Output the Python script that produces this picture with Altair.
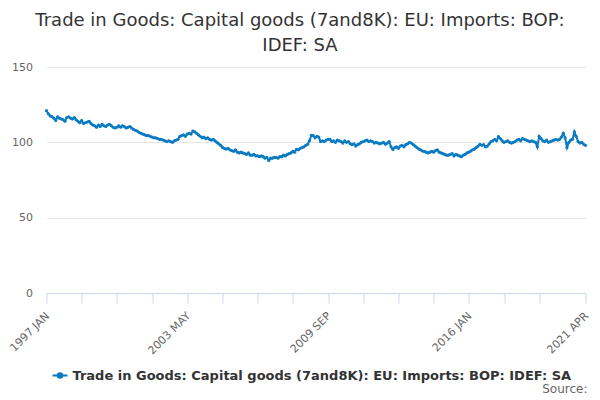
import altair as alt
import pandas as pd

MONTHS = ["JAN", "FEB", "MAR", "APR", "MAY", "JUN", "JUL", "AUG", "SEP", "OCT", "NOV", "DEC"]

values = [
    # 1997
    121, 119, 117.5, 117, 116, 114.5, 117, 116, 115.5, 115, 114, 116.5,
    # 1998
    117, 116, 115.5, 116.5, 115, 114, 113, 114.5, 112.5, 113, 113.5, 114,
    # 1999
    112.5, 111.5, 111, 110, 111.5, 110.5, 112, 111, 110.5, 111.5, 112, 111,
    # 2000
    110, 109.5, 110, 111, 110, 111, 110.5, 109.5, 110, 110.5, 109.5, 108.5,
    # 2001
    108, 107.5, 106.5, 106, 105.5, 105, 104.5, 104.5, 104, 103.5, 103, 103,
    # 2002
    102.5, 102, 102, 101.5, 101, 100.5, 101, 100.5, 100, 101, 101.5, 102,
    # 2003
    104, 104.5, 105, 104, 105.5, 106, 105.5, 107.5, 107, 106, 105, 104,
    # 2004
    103, 103.5, 102.5, 103, 102, 101.5, 102, 101, 100, 99, 98, 96.7,
    # 2005
    96, 95.5, 96, 95, 94.5, 94, 95, 93.5, 93, 93.5, 93, 92.5,
    # 2006
    92, 93, 91.5, 91.5, 92, 91, 91, 90.5, 91, 90.5, 89.5, 90,
    # 2007
    88, 89.5, 89.5, 90, 90, 89.5, 90.5, 90.5, 91.5, 91, 92, 92.5,
    # 2008
    93, 94, 93.5, 95.3, 95, 96, 96.5, 97, 98, 98.7, 101, 104.7,
    # 2009
    104.5, 103, 104, 103.5, 100.5, 101, 100.5, 101.5, 102, 102, 100.5, 101,
    # 2010
    100, 101.5, 101, 100.5, 99.5, 101, 100, 100.5, 99, 98.5, 99, 97.5,
    # 2011
    98.5, 99, 100, 100.5, 101, 101.5, 100.5, 101, 100.5, 99.5, 100, 99.5,
    # 2012
    99, 99.5, 100, 98.7, 99.5, 100.5, 97, 95.3, 96.5, 97, 96, 97.5,
    # 2013
    98, 97, 98.5, 99, 100, 99.5, 98.5, 97.5, 96.5, 95.5, 95, 94.2,
    # 2014
    94, 93.5, 93, 93.5, 94, 93.5, 94.5, 95, 93.5, 93, 92.5, 92,
    # 2015
    91.5, 91.5, 92, 92.5, 91, 92, 91.5, 91, 90.5, 91.5, 92, 93,
    # 2016
    93.5, 94.2, 95, 95.5, 96.5, 97.5, 98.7, 98, 98.5, 97, 97.5, 99,
    # 2017
    100.5, 101, 102, 101, 103.8, 102.5, 101, 100, 100.5, 101, 100, 99.5,
    # 2018
    100, 100.5, 101.5, 102, 101, 102.5, 102, 101.5, 101, 100.5, 101, 100.5,
    # 2019
    100, 97, 104, 102.5, 101, 100.5, 101.5, 100, 100.5, 101, 101.5, 102,
    # 2020
    101.5, 102, 103.5, 106, 103, 96.5, 100, 101.5, 102, 107, 104, 100.5,
    # 2021
    99.5, 100, 98.7, 98,
]

labels = [f"{1997 + i // 12} {MONTHS[i % 12]}" for i in range(len(values))]
tick_values = [labels[i] for i in range(0, 267, 19)] + [labels[-1]]
shown_labels = ["1997 JAN", "2003 MAY", "2009 SEP", "2016 JAN", "2021 APR"]

SERIES = "Trade in Goods: Capital goods (7and8K): EU: Imports: BOP: IDEF: SA"
TITLE = ["Trade in Goods: Capital goods (7and8K): EU: Imports: BOP:", "IDEF: SA"]
BLUE = "#0a7bc2"
FONT = "DejaVu Sans"

df = pd.DataFrame({"month": labels, "value": values, "series": SERIES})

label_expr = " || ".join([f"datum.value == '{s}'" for s in shown_labels])
label_expr = f"({label_expr}) ? datum.value : ''"

line = alt.Chart(df).mark_line(
    strokeWidth=2,
    point=alt.OverlayMarkDef(size=10, filled=True, color=BLUE),
).encode(
    x=alt.X(
        "month:O",
        sort=None,
        scale=alt.Scale(type="point", padding=0),
        axis=alt.Axis(
            title=None,
            values=tick_values,
            labelExpr=label_expr,
            labelAngle=-45,
            labelAlign="right",
            labelBaseline="middle",
            labelColor="#666666",
            labelFont=FONT,
            labelFontSize=11,
            labelPadding=11,
            labelOffset=1,
            tickColor="#ccd6eb",
            tickSize=10,
            domainColor="#ccd6eb",
            grid=False,
            labelOverlap=False,
        ),
    ),
    y=alt.Y(
        "value:Q",
        scale=alt.Scale(domain=[0, 150], nice=False, zero=True),
        axis=alt.Axis(
            title=None,
            values=[0, 50, 100, 150],
            labelColor="#666666",
            labelFont=FONT,
            labelFontSize=11,
            labelPadding=14,
            domain=False,
            ticks=False,
            gridColor="#e6e6e6",
        ),
    ),
    color=alt.Color(
        "series:N",
        scale=alt.Scale(range=[BLUE]),
        legend=alt.Legend(
            title=None,
            orient="none",
            legendX=5,
            legendY=300,
            labelFont=FONT,
            labelFontWeight="bold",
            labelFontSize=13,
            labelColor="#333333",
            labelLimit=600,
            symbolType="M-1,0H1M-0.3,0A0.3,0.3,0,1,1,0.3,0A0.3,0.3,0,1,1,-0.3,0",
            symbolSize=225,
            symbolStrokeWidth=2,
            symbolFillColor=BLUE,
            symbolStrokeColor=BLUE,
        ),
    ),
)

source = alt.Chart(pd.DataFrame({"t": ["Source:"]})).mark_text(
    align="right", baseline="middle", font=FONT, fontSize=12, color="#666666"
).encode(
    text="t:N",
    x=alt.value(541),
    y=alt.value(322),
)

chart = alt.layer(line, source).properties(
    width=539,
    height=226,
    padding={"left": 38.5, "top": 59, "right": 6, "bottom": 105},
    autosize=alt.AutoSizeParams(type="none"),
    title=alt.Title(
        TITLE,
        font=FONT,
        fontSize=18,
        fontWeight="normal",
        color="#333333",
        anchor="middle",
        dx=-16,
        offset=6,
        lineHeight=25,
    ),
).configure_view(stroke=None)

chart.save("out.html", embed_options={"renderer": "svg", "actions": False})
